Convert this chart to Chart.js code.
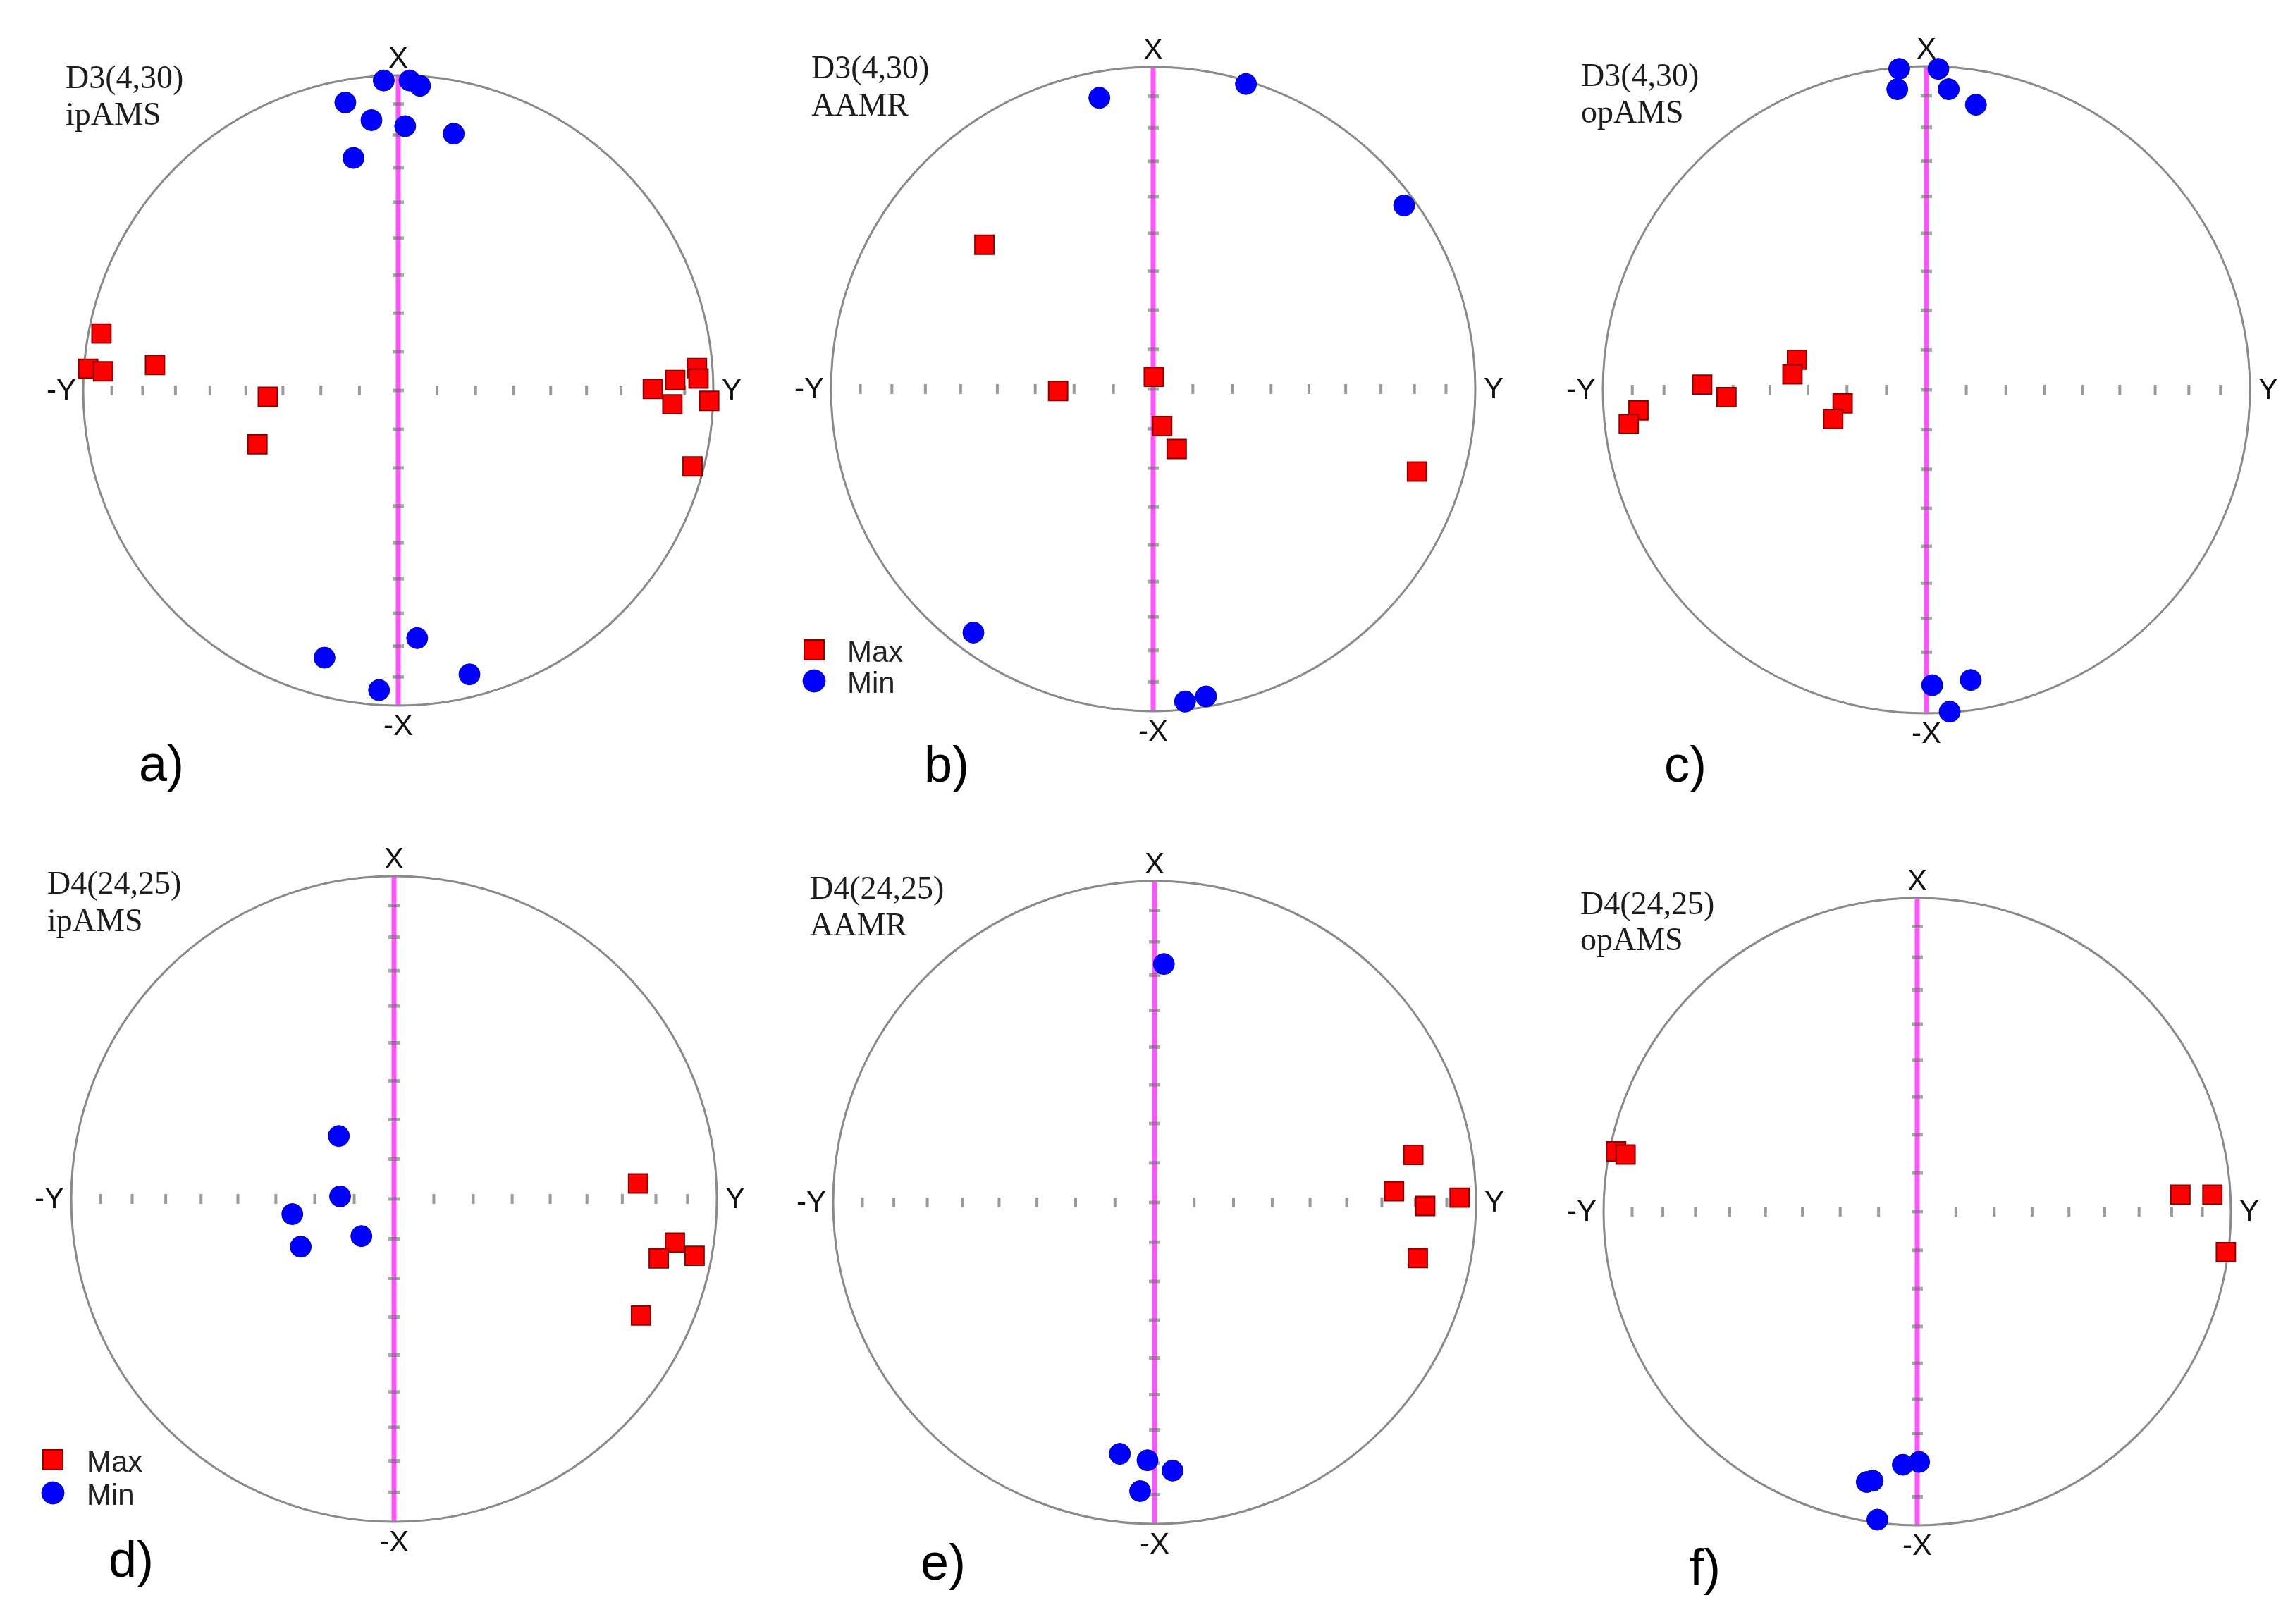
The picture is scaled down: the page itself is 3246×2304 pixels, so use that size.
<!DOCTYPE html>
<html>
<head>
<meta charset="utf-8">
<title>Stereonets D3 / D4</title>
<script src="https://cdn.jsdelivr.net/npm/chart.js@4.4.0/dist/chart.umd.min.js"></script>
<style>
  html, body { margin: 0; padding: 0; background: #fff; }
  #page { position: relative; width: 3246px; height: 2304px; background: #fff; overflow: hidden; }
  #page canvas { position: absolute; }
</style>
</head>
<body>
<div id="page"></div>
<script>
// Directions, in net units (horizontal = Y, vertical = X, radius = 1)
const aMax = [[-0.942, 0.181], [-0.984, 0.069], [-0.937, 0.061], [-0.772, 0.081], [-0.414, -0.020], [-0.447, -0.171],
              [0.808, 0.005], [0.879, 0.033], [0.870, -0.044], [0.948, 0.071], [0.953, 0.038], [0.987, -0.033], [0.934, -0.241]];
const aMin = [[-0.046, 0.984], [0.036, 0.984], [0.069, 0.967], [-0.168, 0.914], [-0.085, 0.858], [0.022, 0.839], [0.176, 0.815], [-0.142, 0.738],
              [0.060, -0.786], [-0.234, -0.848], [0.226, -0.901], [-0.061, -0.951]];

const bMax = [[-0.524, 0.448], [-0.295, -0.006], [0.002, 0.038], [0.028, -0.115], [0.073, -0.186], [0.819, -0.256]];
const bMin = [[-0.167, 0.904], [0.288, 0.947], [0.779, 0.570], [-0.558, -0.756], [0.099, -0.970], [0.164, -0.954]];

const cMax = [[-0.890, -0.064], [-0.920, -0.106], [-0.693, 0.016], [-0.618, -0.023], [-0.400, 0.093], [-0.414, 0.048], [-0.259, -0.042], [-0.288, -0.090]];
const cMin = [[-0.084, 0.992], [0.037, 0.992], [-0.090, 0.929], [0.069, 0.929], [0.153, 0.881], [0.018, -0.913], [0.137, -0.897], [0.072, -0.995]];

const dMax = [[0.756, 0.048], [0.870, -0.135], [0.820, -0.184], [0.931, -0.176], [0.765, -0.361]];
const dMin = [[-0.171, 0.195], [-0.167, 0.008], [-0.315, -0.047], [-0.289, -0.148], [-0.101, -0.115]];

const eMax = [[0.805, 0.148], [0.745, 0.035], [0.842, -0.011], [0.949, 0.015], [0.819, -0.173]];
const eMin = [[0.029, 0.742], [-0.108, -0.782], [-0.022, -0.802], [0.056, -0.834], [-0.045, -0.898]];

const fMax = [[-0.960, 0.192], [-0.930, 0.182], [0.839, 0.054], [0.941, 0.054], [0.984, -0.129]];
const fMin = [[0.006, -0.798], [-0.046, -0.807], [-0.161, -0.862], [-0.142, -0.858], [-0.127, -0.982]];

const sampleNames = ['D3(4,30)', 'D3(4,30)', 'D3(4,30)', 'D4(24,25)', 'D4(24,25)', 'D4(24,25)'];
const methodNames = ['ipAMS', 'AAMR', 'opAMS', 'ipAMS', 'AAMR', 'opAMS'];
const panelLetters = ['a)', 'b)', 'c)', 'd)', 'e)', 'f)'];
const seriesNames = ['Max', 'Min'];
const axisNames = ['X', '-X', 'Y', '-Y'];
// equal-area net ticks every 10 degrees
const tickDips = [10, 20, 30, 40, 50, 60, 70, 80];

// layout of each panel on the page (pixels)
const FRAME_W = 1082, FRAME_H = 1152;
const panels = [
  { max: aMax, min: aMin, col: 0, row: 0, cx: 565, cy: 554, r: 447, title: [93, 125, 177], letter: [197, 1108] },
  { max: bMax, min: bMin, col: 1, row: 0, cx: 1636, cy: 552, r: 457, title: [1151, 111, 164], letter: [1311, 1109], legend: [1155, 922, 966, 1202] },
  { max: cMax, min: cMin, col: 2, row: 0, cx: 2733, cy: 553, r: 459, title: [2243, 122, 174], letter: [2361, 1109] },
  { max: dMax, min: dMin, col: 0, row: 1, cx: 559, cy: 1701, r: 458, title: [67, 1268, 1321], letter: [154, 2237], legend: [75, 2071, 2118, 123] },
  { max: eMax, min: eMin, col: 1, row: 1, cx: 1638, cy: 1706, r: 456, title: [1149, 1275, 1327], letter: [1306, 2241] },
  { max: fMax, min: fMin, col: 2, row: 1, cx: 2720, cy: 1719, r: 445, title: [2242, 1297, 1348], letter: [2397, 2248] }
];

const RED = '#ff0000', RED_EDGE = '#8b0000';
const BLUE = '#0000ff', BLUE_EDGE = '#0000b4';
const TICK_ON_MAGENTA = 'rgba(110,110,110,0.6)';

function toPoints(arr) {
  return arr.map(p => ({ x: p[0], y: p[1] }));
}

function makeStereoPlugin(p, i, fx, fy) {
  return {
    id: 'stereo' + i,
    beforeDatasetsDraw(chart) {
      const ctx = chart.ctx;
      const xs = chart.scales.x, ys = chart.scales.y;
      const cx = xs.getPixelForValue(0), cy = ys.getPixelForValue(0);
      const top = ys.getPixelForValue(1), bottom = ys.getPixelForValue(-1);
      const left = xs.getPixelForValue(-1), right = xs.getPixelForValue(1);
      ctx.save();

      // X axis of the sample (magenta)
      ctx.strokeStyle = '#ff55ff';
      ctx.lineWidth = 7;
      ctx.beginPath();
      ctx.moveTo(cx, top);
      ctx.lineTo(cx, bottom);
      ctx.stroke();

      // ticks on both axes
      ctx.fillStyle = TICK_ON_MAGENTA;
      ctx.fillRect(cx - 8, cy - 2.5, 16, 5);
      tickDips.forEach(d => {
        const t = Math.SQRT2 * Math.sin(d * Math.PI / 360);
        [t, -t].forEach(v => {
          ctx.fillStyle = '#9a9a9a';
          ctx.fillRect(xs.getPixelForValue(v) - 2, cy - 7, 4, 14);
          ctx.fillStyle = TICK_ON_MAGENTA;
          ctx.fillRect(cx - 8, ys.getPixelForValue(v) - 2.5, 16, 5);
        });
      });

      // primitive circle
      ctx.strokeStyle = '#8a8a8a';
      ctx.lineWidth = 3;
      ctx.beginPath();
      ctx.ellipse(cx, cy, right - cx, cy - top, 0, 0, Math.PI * 2);
      ctx.stroke();

      // axis names
      ctx.fillStyle = '#111';
      ctx.font = '42px "Liberation Sans", Arial, sans-serif';
      ctx.textBaseline = 'alphabetic';
      ctx.textAlign = 'center';
      ctx.fillText(axisNames[0], cx, top - 11);
      ctx.fillText(axisNames[1], cx, bottom + 42);
      ctx.textAlign = 'left';
      ctx.fillText(axisNames[2], right + 12, cy + 13);
      ctx.textAlign = 'right';
      ctx.fillText(axisNames[3], left - 10, cy + 13);
      ctx.restore();
    },
    afterDraw(chart) {
      const ctx = chart.ctx;
      ctx.save();
      ctx.fillStyle = '#1c1c1c';
      ctx.textAlign = 'left';
      ctx.textBaseline = 'alphabetic';
      ctx.font = '46px "Liberation Serif", "Times New Roman", serif';
      ctx.fillText(sampleNames[i], p.title[0] - fx, p.title[1] - fy);
      ctx.fillText(methodNames[i], p.title[0] - fx, p.title[2] - fy);

      ctx.fillStyle = '#000';
      ctx.font = '72px "Liberation Sans", Arial, sans-serif';
      ctx.fillText(panelLetters[i], p.letter[0] - fx, p.letter[1] - fy);

      if (p.legend) {
        const lx = p.legend[0] - fx, ly1 = p.legend[1] - fy, ly2 = p.legend[2] - fy, tx = p.legend[3] - fx;
        ctx.fillStyle = RED;
        ctx.strokeStyle = RED_EDGE;
        ctx.lineWidth = 2;
        ctx.fillRect(lx - 14, ly1 - 14, 28, 28);
        ctx.strokeRect(lx - 14, ly1 - 14, 28, 28);
        ctx.fillStyle = BLUE;
        ctx.strokeStyle = BLUE_EDGE;
        ctx.lineWidth = 1;
        ctx.beginPath();
        ctx.arc(lx, ly2, 16, 0, Math.PI * 2);
        ctx.fill();
        ctx.stroke();
        ctx.fillStyle = '#222';
        ctx.font = '42px "Liberation Sans", Arial, sans-serif';
        ctx.fillText(seriesNames[0], tx, ly1 + 17);
        ctx.fillText(seriesNames[1], tx, ly2 + 17);
      }
      ctx.restore();
    }
  };
}

const page = document.getElementById('page');

panels.forEach(function (p, i) {
  const fx = p.col * FRAME_W, fy = p.row * FRAME_H;
  const canvas = document.createElement('canvas');
  canvas.width = FRAME_W;
  canvas.height = FRAME_H;
  canvas.style.left = fx + 'px';
  canvas.style.top = fy + 'px';
  page.appendChild(canvas);

  new Chart(canvas.getContext('2d'), {
    type: 'scatter',
    data: {
      datasets: [{
        label: seriesNames[0],
        data: toPoints(p.max),
        pointStyle: 'rect',
        pointRadius: 19,
        backgroundColor: RED,
        borderColor: RED_EDGE,
        borderWidth: 2,
        clip: false
      }, {
        label: seriesNames[1],
        data: toPoints(p.min),
        pointStyle: 'circle',
        pointRadius: 15,
        backgroundColor: BLUE,
        borderColor: BLUE_EDGE,
        borderWidth: 1,
        clip: false
      }]
    },
    options: {
      responsive: false,
      maintainAspectRatio: false,
      devicePixelRatio: 1,
      animation: false,
      events: [],
      layout: {
        autoPadding: false,
        padding: {
          left: p.cx - p.r - fx,
          top: p.cy - p.r - fy,
          right: FRAME_W - (p.cx + p.r - fx),
          bottom: FRAME_H - (p.cy + p.r - fy)
        }
      },
      scales: {
        x: { type: 'linear', min: -1, max: 1, display: false },
        y: { type: 'linear', min: -1, max: 1, display: false }
      },
      plugins: {
        legend: { display: false },
        tooltip: { enabled: false }
      }
    },
    plugins: [makeStereoPlugin(p, i, fx, fy)]
  });
});
</script>
</body>
</html>
